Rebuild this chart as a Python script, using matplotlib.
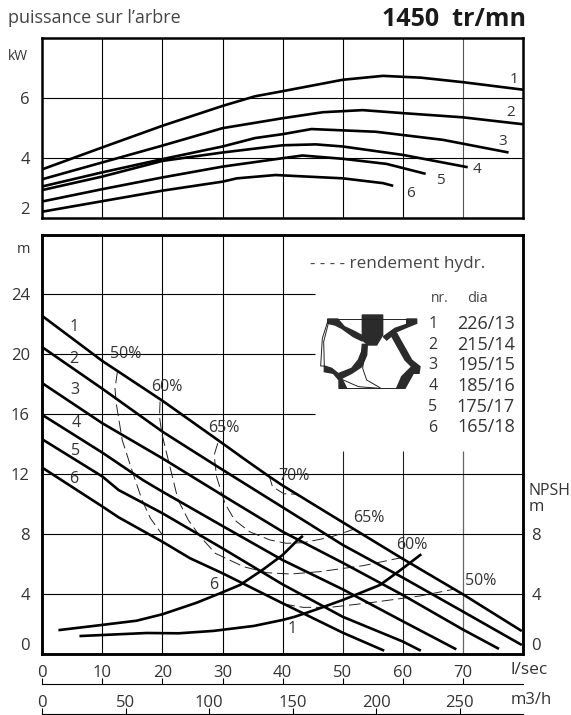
import matplotlib
matplotlib.use("Agg")
import matplotlib.pyplot as plt
from matplotlib.patches import Polygon

plt.rcParams['font.family'] = ['Open Sans', 'DejaVu Sans']

W, H = 571, 715
TXT = "#333333"

# puissance sur l'arbre (l/sec, kW)
p1_x = [0, 10, 20, 30, 35.4, 40, 50, 56.7, 63, 70, 80]
p1_y = [3.63, 4.36, 5.08, 5.74, 6.06, 6.23, 6.61, 6.74, 6.68, 6.53, 6.28]
p2_x = [0, 10, 20, 30, 40, 46.7, 53.3, 60, 70, 80]
p2_y = [3.30, 3.86, 4.42, 5.0, 5.33, 5.53, 5.6, 5.5, 5.36, 5.13]
p3_x = [0, 10, 20, 30, 35.4, 40, 44.8, 55.5, 66.7, 77.6]
p3_y = [3.06, 3.53, 3.97, 4.39, 4.67, 4.8, 4.97, 4.88, 4.61, 4.19]
p4_x = [0, 10, 20, 30, 40, 45.5, 50, 60, 70.8]
p4_y = [2.94, 3.39, 3.91, 4.19, 4.43, 4.46, 4.39, 4.11, 3.7]
p5_x = [0, 10, 20, 30, 40, 43.3, 50, 57.3, 63.8]
p5_y = [2.56, 2.97, 3.36, 3.72, 4.0, 4.09, 3.98, 3.81, 3.48]
p6_x = [0, 10, 20, 30, 32.4, 38.8, 50, 56.7, 58.4]
p6_y = [2.22, 2.57, 2.92, 3.22, 3.33, 3.44, 3.33, 3.17, 3.08]
power_curves = [(p1_x, p1_y), (p2_x, p2_y), (p3_x, p3_y), (p4_x, p4_y), (p5_x, p5_y), (p6_x, p6_y)]
power_labels = [("1", 78.5, 6.63), ("2", 77.9, 5.52), ("3", 76.7, 4.56),
                ("4", 72.4, 3.61), ("5", 66.2, 3.26), ("6", 61.3, 2.81)]

# courbes de hauteur (l/sec, m)
h1_x = [0, 10, 20, 30, 33.5, 37.4, 40, 50, 60, 70, 79.8]
h1_y = [22.55, 19.55, 16.9, 14.06, 13.05, 11.95, 11.25, 8.8, 6.36, 4.0, 1.55]
h2_x = [0, 10, 20, 22.9, 30, 40, 44.6, 50, 60, 70, 79.8]
h2_y = [20.47, 17.7, 14.84, 14.1, 12.3, 9.8, 8.65, 7.29, 5.11, 2.85, 0.62]
h3_x = [0, 10, 20, 30, 40, 50, 60, 70, 76]
h3_y = [18.07, 15.4, 13.06, 10.6, 8.17, 6.1, 3.95, 1.65, 0.36]
h4_x = [0, 10, 16.8, 20, 30, 40, 50, 60, 68.9]
h4_y = [15.96, 13.44, 11.6, 10.84, 8.55, 6.28, 4.33, 2.2, 0.33]
h5_x = [0, 10, 12.7, 20, 30, 40, 50, 60, 63]
h5_y = [14.33, 11.85, 10.95, 9.4, 7.06, 4.66, 2.5, 0.85, 0.24]
h6_x = [0, 10, 12.7, 20, 24.6, 30, 40, 50, 56.9]
h6_y = [12.44, 9.85, 9.13, 7.5, 6.4, 5.4, 3.4, 1.44, 0.24]
head_curves = [(h1_x, h1_y), (h2_x, h2_y), (h3_x, h3_y), (h4_x, h4_y), (h5_x, h5_y), (h6_x, h6_y)]
head_labels = [("1", 5.3, 21.8), ("2", 5.3, 19.7), ("3", 5.5, 17.6),
               ("4", 5.6, 15.4), ("5", 5.5, 13.55), ("6", 5.3, 11.7)]

# NPSH
npsh6_x = [2.9, 10, 15.7, 20, 25.7, 29.6, 32.9, 36.8, 40, 42.4, 43.2]
npsh6_y = [1.62, 1.96, 2.24, 2.67, 3.44, 4.07, 4.62, 5.67, 6.62, 7.58, 7.84]
npsh1_x = [6.4, 17.4, 22.7, 28.5, 35.2, 40, 42, 45.7, 50, 56.2, 60, 62.9]
npsh1_y = [1.22, 1.42, 1.4, 1.56, 1.89, 2.29, 2.5, 3.0, 3.62, 4.62, 5.73, 6.62]

# rendement hydr.
e50a_x = [12.5, 12.1, 12.3, 13.3, 15, 16.6, 18, 20]
e50a_y = [18.84, 17.73, 16.73, 14.28, 12.17, 10.28, 9.06, 7.95]
e50b_x = [40.1, 43.4, 47.9, 54.6, 62.9, 68.4]
e50b_y = [3.36, 3.13, 3.13, 3.44, 3.89, 4.33]
e60_x = [19.6, 19.5, 19.9, 22.6, 24.3, 26.3, 28.8, 33.5, 37.4, 41.3, 46.2, 53.4, 60.1]
e60_y = [16.84, 15.84, 14.7, 10.28, 8.95, 7.84, 6.73, 5.84, 5.44, 5.35, 5.51, 5.91, 6.47]
e65_x = [29.2, 28.6, 29, 30.4, 32, 34.5, 37.9, 40.6, 43.4, 47.9, 51.8]
e65_y = [14.07, 13.28, 11.84, 10.06, 8.95, 8.17, 7.62, 7.4, 7.44, 7.8, 8.33]
e70_x = [37.7, 38.3, 40.2, 42.6]
e70_y = [11.96, 11.18, 10.7, 10.67]
eff_curves = [(e50a_x, e50a_y), (e50b_x, e50b_y), (e60_x, e60_y), (e65_x, e65_y), (e70_x, e70_y)]
eff_labels = [("50%", 13.9, 20.0), ("60%", 20.7, 17.8), ("65%", 30.2, 15.1), ("70%", 41.8, 11.9),
              ("65%", 54.4, 9.07), ("60%", 61.5, 7.3), ("50%", 73, 4.9)]

nr = ["1", "2", "3", "4", "5", "6"]
dia = ["226/13", "215/14", "195/15", "185/16", "175/17", "165/18"]

lsec_ticks = [0, 10, 20, 30, 40, 50, 60, 70]
m3h_ticks = [0, 50, 100, 150, 200, 250]

# coupe de la roue
imp_hub = [(142, 30), (203, 30), (203, 90), (185, 120), (160, 120), (142, 105)]
imp_upper_left = [(38, 42), (68, 42), (88, 65), (120, 80), (142, 92), (142, 108), (115, 95), (80, 70), (60, 60), (38, 55)]
imp_mid = [(142, 118), (157, 118), (155, 150), (140, 185), (110, 205), (80, 220), (72, 205), (110, 190), (130, 165), (140, 140)]
imp_lower_left = [(28, 183), (50, 190), (75, 210), (95, 250), (72, 250), (72, 225), (55, 205), (28, 200)]
imp_right_top = [(205, 95), (240, 70), (275, 58), (275, 42), (305, 42), (305, 55), (280, 65), (245, 80), (215, 105)]
imp_right = [(228, 90), (245, 85), (290, 165), (315, 185), (312, 205), (295, 205), (270, 250), (245, 250), (260, 215), (290, 185), (270, 165)]
imp_filled = [imp_hub, imp_upper_left, imp_mid, imp_lower_left, imp_right_top, imp_right]
imp_lines = [
    [(70, 42), (275, 42)], [(72, 250), (245, 250)],
    [(38, 50), (22, 100), (17, 183), (28, 183)], [(28, 183), (26, 110), (40, 55)],
    [(150, 130), (143, 190), (155, 225), (195, 248)], [(85, 225), (130, 245), (195, 250)],
]


def box(left, top, right, bottom):
    return [left / W, 1 - bottom / H, (right - left) / W, (bottom - top) / H]


fig = plt.figure(figsize=(W / 100, H / 100), dpi=100)

# panneau du haut
ax1 = fig.add_axes(box(42.3, 38, 523, 218.3))
ax1.set_xlim(0, 80)
ax1.set_ylim(2, 8)
for x in range(10, 70, 10):
    ax1.axvline(x, color="black", lw=0.8, zorder=1)
ax1.axvline(70, color="#555555", lw=0.8, zorder=1)
for y in [4, 6]:
    ax1.axhline(y, color="black", lw=0.8, zorder=1)
for x, y in power_curves:
    ax1.plot(x, y, color="black", lw=1.9, zorder=2, solid_capstyle="butt")
for t, x, y in power_labels:
    ax1.text(x, y, t, fontsize=11, color=TXT, ha="center", va="center")
ax1.set_xticks([])
ax1.set_yticks([2, 4, 6])
ax1.tick_params(axis="y", length=0, pad=9, labelsize=12, labelcolor=TXT)
ax1.get_yticklabels()[0].set_va("bottom")

# panneau du bas
ax2 = fig.add_axes(box(42.3, 235, 523, 654.3))
ax2.set_xlim(0, 80)
ax2.set_ylim(0, 27.95)
for x in [10, 20, 30, 40]:
    ax2.axvline(x, color="black", lw=0.8, zorder=1)
ax2.vlines([50, 60], 0, 13.55, color="#222222", lw=0.8, zorder=1)
ax2.vlines([70], 0, 13.55, color="#666666", lw=0.9, zorder=1)
ax2.hlines([16, 20, 24], 0, 45.4, color="black", lw=0.8, zorder=1)
ax2.hlines([4, 8, 12], 0, 80, color="black", lw=0.8, zorder=1)
for x, y in eff_curves:
    ax2.plot(x, y, color="#222222", lw=0.7, ls=(0, (12, 5)), zorder=2)
for x, y in head_curves:
    ax2.plot(x, y, color="black", lw=1.9, zorder=3, solid_capstyle="butt")
ax2.plot(npsh6_x, npsh6_y, color="black", lw=1.9, zorder=3)
ax2.plot(npsh1_x, npsh1_y, color="black", lw=1.9, zorder=3)
for t, x, y in head_labels:
    ax2.text(x, y, t, fontsize=11.5, color=TXT, ha="center", va="center")
for t, x, y in eff_labels:
    ax2.text(x, y, t, fontsize=11.5, color=TXT, ha="center", va="center", zorder=4)
ax2.text(28.6, 4.62, "6", fontsize=11.5, color=TXT, ha="center", va="center")
ax2.text(41.6, 1.7, "1", fontsize=11.5, color=TXT, ha="center", va="center")
ax2.set_xticks([])
ax2.set_yticks([0, 4, 8, 12, 16, 20, 24])
ax2.tick_params(axis="y", length=0, pad=9, labelsize=12, labelcolor=TXT)
ax2.get_yticklabels()[0].set_va("bottom")

# échelle NPSH à droite
ax2r = ax2.twinx()
ax2r.set_ylim(0, 27.95)
ax2r.set_yticks([0, 4, 8])
ax2r.tick_params(axis="y", length=0, pad=6, labelsize=12, labelcolor=TXT)
ax2r.get_yticklabels()[0].set_va("bottom")

for a in [ax1, ax2, ax2r]:
    for s in a.spines.values():
        s.set_linewidth(1.8)

# axes l/sec et m3/h sous le graphique
ax3 = fig.add_axes(box(42.3, 684, 523, 684.01))
ax3.set_xlim(0, 80)
ax4 = fig.add_axes(box(42.3, 714, 523, 714.01))
ax4.set_xlim(0, 80 * 3.6)
for a, ticks in [(ax3, lsec_ticks), (ax4, m3h_ticks)]:
    a.set_yticks([])
    a.patch.set_alpha(0)
    for s in ["left", "right", "bottom"]:
        a.spines[s].set_visible(False)
    a.spines["top"].set_linewidth(0.8)
    a.xaxis.tick_top()
    a.set_xticks(ticks)
    a.tick_params(axis="x", direction="out", length=4.5, width=0.8, pad=-2, labelsize=12, labelcolor=TXT)

# textes
fig.text(8 / W, 1 - 18 / H, "puissance sur l\u2019arbre", fontsize=13, color="#444444", va="center")
fig.text(526 / W, 1 - 19 / H, "1450  tr/mn", fontsize=18, fontweight="bold", color="#1a1a1a", ha="right", va="center")
fig.text(8 / W, 1 - 56 / H, "kW", fontsize=10, color=TXT, va="center", ha="left")
fig.text(23 / W, 1 - 250 / H, "m", fontsize=10.5, color=TXT, va="center", ha="center")
fig.text(528 / W, 1 - 491 / H, "NPSH", fontsize=11.5, color=TXT, va="center", ha="left")
fig.text(529 / W, 1 - 507 / H, "m", fontsize=12, color=TXT, va="center", ha="left")
fig.text(511 / W, 1 - 670 / H, "l/sec", fontsize=12.5, color=TXT, va="center", ha="left")
fig.text(511 / W, 1 - 700 / H, "m3/h", fontsize=12, color=TXT, va="center", ha="left")
fig.text(310 / W, 1 - 264 / H, "- - - - rendement hydr.", fontsize=12.3, color="#444444", va="center")
fig.text(431 / W, 1 - 298 / H, "nr.", fontsize=10, color="#444444", va="center")
fig.text(477 / W, 1 - 298 / H, "dia", fontsize=10.5, color="#444444", va="center", ha="center")
for i, (n, d) in enumerate(zip(nr, dia)):
    py = 324 + i * 20.7
    fig.text(433 / W, 1 - py / H, n, fontsize=11.5, color=TXT, va="center", ha="center")
    fig.text(515 / W, 1 - py / H, d, fontsize=13, color=TXT, va="center", ha="right")

# roue
ax5 = fig.add_axes(box(315, 305, 425, 395))
ax5.set_xlim(0, 330)
ax5.set_ylim(270, 0)
ax5.axis("off")
for pts in imp_filled:
    ax5.add_patch(Polygon(pts, closed=True, facecolor="#2b2b2b", edgecolor="#2b2b2b", lw=1.0))
for pts in imp_lines:
    ax5.plot([p[0] for p in pts], [p[1] for p in pts], color="#222222", lw=0.7)

fig.savefig("out.png", dpi=100)
